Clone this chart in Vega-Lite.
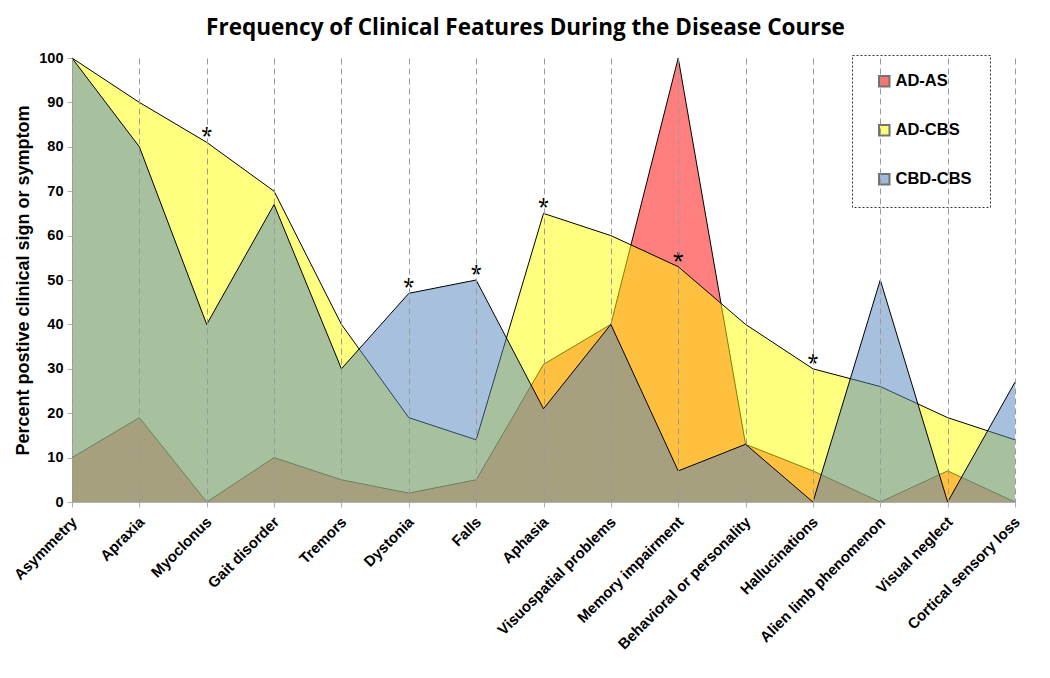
{
  "$schema": "https://vega.github.io/schema/vega-lite/v6.json",
  "autosize": "none",
  "width": 943,
  "height": 444,
  "padding": {"left": 72, "top": 58, "right": 35, "bottom": 176},
  "background": "white",
  "title": {
    "text": "Frequency of Clinical Features During the Disease Course",
    "font": "Open Sans",
    "fontSize": 22.5,
    "fontWeight": "bold",
    "color": "#000000",
    "anchor": "middle",
    "dx": -18,
    "offset": 11
  },
  "datasets": {
    "main": [
      {"feature": "Asymmetry", "series": "AD-AS", "value": 10},
      {"feature": "Apraxia", "series": "AD-AS", "value": 19},
      {"feature": "Myoclonus", "series": "AD-AS", "value": 0},
      {"feature": "Gait disorder", "series": "AD-AS", "value": 10},
      {"feature": "Tremors", "series": "AD-AS", "value": 5},
      {"feature": "Dystonia", "series": "AD-AS", "value": 2},
      {"feature": "Falls", "series": "AD-AS", "value": 5},
      {"feature": "Aphasia", "series": "AD-AS", "value": 31},
      {"feature": "Visuospatial problems", "series": "AD-AS", "value": 40},
      {"feature": "Memory impairment", "series": "AD-AS", "value": 100},
      {"feature": "Behavioral or personality", "series": "AD-AS", "value": 13},
      {"feature": "Hallucinations", "series": "AD-AS", "value": 7},
      {"feature": "Alien limb phenomenon", "series": "AD-AS", "value": 0},
      {"feature": "Visual neglect", "series": "AD-AS", "value": 7},
      {"feature": "Cortical sensory loss", "series": "AD-AS", "value": 0},
      {"feature": "Asymmetry", "series": "AD-CBS", "value": 100},
      {"feature": "Apraxia", "series": "AD-CBS", "value": 90},
      {"feature": "Myoclonus", "series": "AD-CBS", "value": 81},
      {"feature": "Gait disorder", "series": "AD-CBS", "value": 70},
      {"feature": "Tremors", "series": "AD-CBS", "value": 40},
      {"feature": "Dystonia", "series": "AD-CBS", "value": 19},
      {"feature": "Falls", "series": "AD-CBS", "value": 14},
      {"feature": "Aphasia", "series": "AD-CBS", "value": 65},
      {"feature": "Visuospatial problems", "series": "AD-CBS", "value": 60},
      {"feature": "Memory impairment", "series": "AD-CBS", "value": 53},
      {"feature": "Behavioral or personality", "series": "AD-CBS", "value": 40},
      {"feature": "Hallucinations", "series": "AD-CBS", "value": 30},
      {"feature": "Alien limb phenomenon", "series": "AD-CBS", "value": 26},
      {"feature": "Visual neglect", "series": "AD-CBS", "value": 19},
      {"feature": "Cortical sensory loss", "series": "AD-CBS", "value": 14},
      {"feature": "Asymmetry", "series": "CBD-CBS", "value": 100},
      {"feature": "Apraxia", "series": "CBD-CBS", "value": 80},
      {"feature": "Myoclonus", "series": "CBD-CBS", "value": 40},
      {"feature": "Gait disorder", "series": "CBD-CBS", "value": 67},
      {"feature": "Tremors", "series": "CBD-CBS", "value": 30},
      {"feature": "Dystonia", "series": "CBD-CBS", "value": 47},
      {"feature": "Falls", "series": "CBD-CBS", "value": 50},
      {"feature": "Aphasia", "series": "CBD-CBS", "value": 21},
      {"feature": "Visuospatial problems", "series": "CBD-CBS", "value": 40},
      {"feature": "Memory impairment", "series": "CBD-CBS", "value": 7},
      {"feature": "Behavioral or personality", "series": "CBD-CBS", "value": 13},
      {"feature": "Hallucinations", "series": "CBD-CBS", "value": 0},
      {"feature": "Alien limb phenomenon", "series": "CBD-CBS", "value": 50},
      {"feature": "Visual neglect", "series": "CBD-CBS", "value": 0},
      {"feature": "Cortical sensory loss", "series": "CBD-CBS", "value": 27}
    ],
    "stars": [
      {"feature": "Myoclonus", "value": 81, "mark": "*"},
      {"feature": "Dystonia", "value": 47, "mark": "*"},
      {"feature": "Falls", "value": 50, "mark": "*"},
      {"feature": "Aphasia", "value": 65, "mark": "*"},
      {"feature": "Memory impairment", "value": 53, "mark": "*"},
      {"feature": "Hallucinations", "value": 30, "mark": "*"}
    ]
  },
  "encoding": {
    "x": {
      "field": "feature",
      "type": "nominal",
      "sort": ["Asymmetry", "Apraxia", "Myoclonus", "Gait disorder", "Tremors", "Dystonia", "Falls", "Aphasia", "Visuospatial problems", "Memory impairment", "Behavioral or personality", "Hallucinations", "Alien limb phenomenon", "Visual neglect", "Cortical sensory loss"],
      "scale": {"type": "point", "padding": 0},
      "axis": {
        "title": null,
        "labelAngle": -45,
        "labelAlign": "right",
        "labelBaseline": "top",
        "labelFont": "Liberation Sans",
        "labelFontWeight": "bold",
        "labelFontSize": 15,
        "labelColor": "#000000",
        "labelPadding": 7,
        "labelOffset": -3,
        "labelLimit": 300,
        "domainColor": "#b0b0b0",
        "tickColor": "#b0b0b0",
        "tickSize": 5,
        "grid": true,
        "gridColor": "#9a9a9a",
        "gridDash": [6, 4],
        "gridWidth": 1,
        "zindex": 1
      }
    },
    "y": {
      "field": "value",
      "type": "quantitative",
      "scale": {"domain": [0, 100], "nice": false},
      "axis": {
        "title": "Percent postive clinical sign or symptom",
        "titleFont": "Liberation Sans",
        "titleFontSize": 18,
        "titleFontWeight": "bold",
        "titleColor": "#000000",
        "titlePadding": 6,
        "values": [0, 10, 20, 30, 40, 50, 60, 70, 80, 90, 100],
        "labelFont": "Liberation Sans",
        "labelFontWeight": "bold",
        "labelFontSize": 14.5,
        "labelColor": "#000000",
        "labelPadding": 4,
        "domainColor": "#b0b0b0",
        "tickColor": "#b0b0b0",
        "tickSize": 5,
        "grid": false
      }
    }
  },
  "layer": [
    {
      "data": {"name": "main"},
      "transform": [{"filter": "datum.series === 'AD-AS'"}],
      "mark": {"type": "area", "fillOpacity": 0.5, "interpolate": "linear"},
      "encoding": {
        "color": {
          "field": "series",
          "type": "nominal",
          "scale": {"domain": ["AD-AS", "AD-CBS", "CBD-CBS"], "range": ["#FF0000", "#FFFF00", "#4F81BD"]},
          "legend": {
            "title": null,
            "orient": "none",
            "legendX": 780,
            "legendY": -3,
            "symbolType": "square",
            "symbolSize": 110,
            "symbolOpacity": 0.55,
            "symbolStrokeColor": "#000000",
            "symbolStrokeWidth": 2,
            "symbolOffset": 6,
            "labelFont": "Liberation Sans",
            "labelFontSize": 16.5,
            "labelFontWeight": "bold",
            "labelColor": "#000000",
            "labelOffset": 3,
            "rowPadding": 30,
            "padding": 18,
            "strokeColor": "#333333"
          }
        }
      }
    },
    {
      "data": {"name": "main"},
      "transform": [{"filter": "datum.series === 'AD-AS'"}],
      "mark": {"type": "line", "color": "#000000", "strokeWidth": 1}
    },
    {
      "data": {"name": "main"},
      "transform": [{"filter": "datum.series === 'AD-CBS'"}],
      "mark": {"type": "area", "fillOpacity": 0.5, "interpolate": "linear"},
      "encoding": {"color": {"field": "series", "type": "nominal"}}
    },
    {
      "data": {"name": "main"},
      "transform": [{"filter": "datum.series === 'AD-CBS'"}],
      "mark": {"type": "line", "color": "#000000", "strokeWidth": 1}
    },
    {
      "data": {"name": "main"},
      "transform": [{"filter": "datum.series === 'CBD-CBS'"}],
      "mark": {"type": "area", "fillOpacity": 0.5, "interpolate": "linear"},
      "encoding": {"color": {"field": "series", "type": "nominal"}}
    },
    {
      "data": {"name": "main"},
      "transform": [{"filter": "datum.series === 'CBD-CBS'"}],
      "mark": {"type": "line", "color": "#000000", "strokeWidth": 1}
    },
    {
      "data": {"name": "stars"},
      "mark": {"type": "text", "font": "Liberation Sans", "fontSize": 27, "color": "#000000", "baseline": "middle", "dy": -4},
      "encoding": {"text": {"field": "mark"}}
    }
  ],
  "config": {
    "view": {"stroke": null},
    "legend": {"strokeDash": [2, 2], "strokeWidth": 1}
  }
}
